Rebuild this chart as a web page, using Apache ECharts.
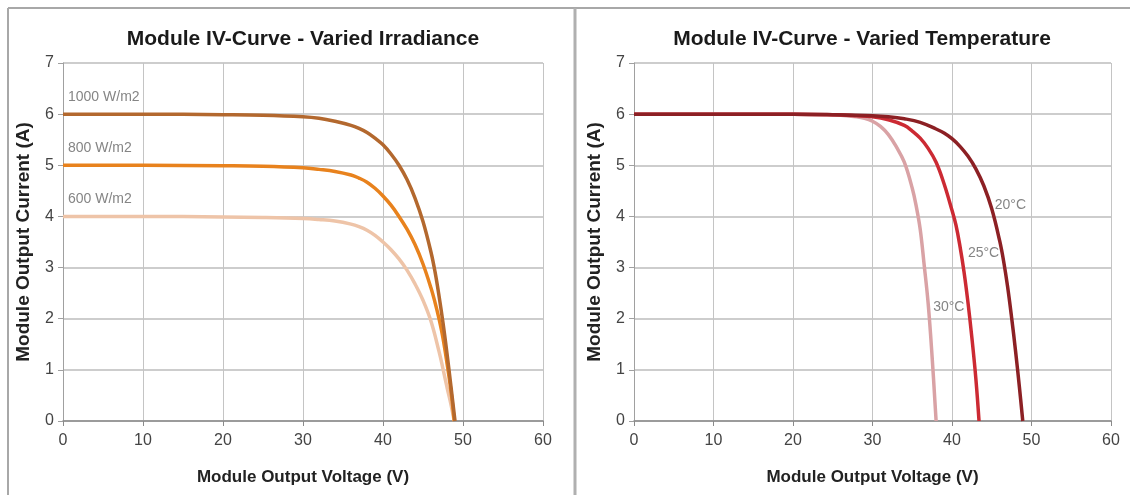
<!DOCTYPE html>
<html><head><meta charset="utf-8">
<script src="https://cdn.jsdelivr.net/npm/echarts@6/dist/echarts.min.js"></script>
<style>html,body{margin:0;padding:0;background:#fff}#c{width:1130px;height:495px}</style>
</head><body><div id="c"></div>
<script>
const chartTitles = ['Module IV-Curve - Varied Irradiance', 'Module IV-Curve - Varied Temperature'];
const xAxisName = 'Module Output Voltage (V)';
const yAxisName = 'Module Output Current (A)';
const xTicks = [0, 10, 20, 30, 40, 50, 60];
const yTicks = [0, 1, 2, 3, 4, 5, 6, 7];

// Varied irradiance
const irr1000Name = '1000 W/m2';
const irr1000V = [0, 10, 20, 25, 30, 32, 34, 36, 37, 38, 39, 40, 41, 42, 43, 44, 45, 46, 46.5, 47, 47.5, 48, 48.5, 49];
const irr1000I = [6.0, 6.0, 5.99, 5.98, 5.95, 5.92, 5.86, 5.78, 5.72, 5.64, 5.53, 5.4, 5.22, 5.0, 4.72, 4.36, 3.9, 3.3, 2.92, 2.45, 1.92, 1.32, 0.67, 0];
const irr800Name = '800 W/m2';
const irr800V = [0, 10, 20, 25, 30, 32, 34, 36, 37, 38, 39, 40, 41, 42, 43, 44, 45, 46, 46.5, 47, 47.5, 48, 48.5, 48.9];
const irr800I = [5.0, 5.0, 4.99, 4.98, 4.95, 4.92, 4.88, 4.81, 4.75, 4.67, 4.55, 4.4, 4.22, 4.0, 3.75, 3.45, 3.07, 2.6, 2.32, 2.0, 1.62, 1.13, 0.58, 0];
const irr600Name = '600 W/m2';
const irr600V = [0, 10, 20, 25, 30, 32, 34, 36, 37, 38, 39, 40, 41, 42, 43, 44, 45, 46, 47, 47.5, 48, 48.5, 48.9];
const irr600I = [4.0, 4.0, 3.99, 3.98, 3.96, 3.94, 3.91, 3.85, 3.8, 3.73, 3.63, 3.5, 3.35, 3.17, 2.95, 2.68, 2.36, 1.95, 1.36, 1.02, 0.66, 0.32, 0];

// Varied temperature
const t20Name = '20°C';
const t20V = [0, 10, 20, 25, 30, 32, 34, 36, 38, 39, 40, 41, 42, 43, 44, 45, 46, 46.5, 47, 47.5, 48, 48.5, 48.9];
const t20I = [6.0, 6.0, 6.0, 5.99, 5.97, 5.95, 5.91, 5.84, 5.71, 5.63, 5.52, 5.37, 5.18, 4.93, 4.6, 4.15, 3.52, 3.12, 2.62, 2.02, 1.36, 0.63, 0];
const t25Name = '25°C';
const t25V = [0, 10, 20, 25, 28, 30, 32, 34, 35, 36, 37, 38, 39, 40, 40.5, 41, 41.5, 42, 42.5, 43, 43.4];
const t25I = [6.0, 6.0, 6.0, 5.99, 5.97, 5.95, 5.89, 5.78, 5.67, 5.53, 5.33, 5.06, 4.64, 4.12, 3.83, 3.42, 2.93, 2.33, 1.63, 0.83, 0];
const t30Name = '30°C';
const t30V = [0, 10, 20, 24, 26, 28, 29, 30, 31, 32, 33, 34, 35, 35.5, 36, 36.5, 37, 37.5, 38];
const t30I = [6.0, 6.0, 6.0, 5.99, 5.98, 5.95, 5.92, 5.86, 5.76, 5.6, 5.36, 5.06, 4.55, 4.2, 3.75, 3.05, 2.3, 1.25, 0];

const FONT = "'Liberation Sans', Arial, sans-serif";
const pts = (v, i) => v.map((x, k) => [x, i[k]]);

function lineSeries(idx, name, v, i, color, labelIdx, labelOffset) {
  return {
    type: 'line', name: name, xAxisIndex: idx, yAxisIndex: idx,
    data: pts(v, i), showSymbol: false, smooth: 0.4,
    lineStyle: { color: color, width: 3.5 }, itemStyle: { color: color },
    z: 3,
    markPoint: {
      symbol: 'circle', symbolSize: 0, silent: true,
      label: { show: true, formatter: name, position: 'right', offset: labelOffset,
        color: '#858585', fontFamily: FONT, fontSize: 14 },
      data: [{ coord: [v[labelIdx], i[labelIdx]] }]
    }
  };
}

function xAxis(idx) {
  return {
    type: 'value', gridIndex: idx, min: xTicks[0], max: xTicks[xTicks.length - 1], interval: xTicks[1] - xTicks[0],
    name: xAxisName, nameLocation: 'middle', nameGap: 48,
    nameTextStyle: { fontFamily: FONT, fontWeight: 'bold', fontSize: 17, color: '#222' },
    axisLine: { lineStyle: { color: '#8a8a8a', width: 1.5 } },
    axisTick: { show: true, length: 5, lineStyle: { color: '#8a8a8a' } },
    axisLabel: { fontFamily: FONT, fontSize: 16, color: '#444', margin: 12 },
    splitLine: { show: true, lineStyle: { color: '#c4c4c4', width: 1 } }
  };
}
function yAxis(idx) {
  return {
    type: 'value', gridIndex: idx, min: yTicks[0], max: yTicks[yTicks.length - 1], interval: yTicks[1] - yTicks[0],
    name: yAxisName, nameLocation: 'middle', nameGap: 30,
    nameTextStyle: { fontFamily: FONT, fontWeight: 'bold', fontSize: 19, color: '#222' },
    axisLine: { show: true, lineStyle: { color: '#a0a0a0', width: 1 } },
    axisTick: { show: true, length: 5, lineStyle: { color: '#a0a0a0' } },
    axisLabel: { fontFamily: FONT, fontSize: 16, color: '#444', margin: 9 },
    splitLine: { show: true, lineStyle: { color: '#cdcdcd', width: 2 } }
  };
}

const chart = echarts.init(document.getElementById('c'), null, { renderer: 'canvas' });
chart.setOption({
  backgroundColor: '#ffffff',
  animation: false,
  title: [
    { text: chartTitles[0], left: 298, top: 24, textAlign: 'center',
      textStyle: { fontFamily: FONT, fontWeight: 'bold', fontSize: 21, color: '#1a1a1a' } },
    { text: chartTitles[1], left: 857, top: 24, textAlign: 'center',
      textStyle: { fontFamily: FONT, fontWeight: 'bold', fontSize: 21, color: '#1a1a1a' } }
  ],
  graphic: [
    { type: 'line', shape: { x1: 8, y1: 8, x2: 1130, y2: 8 }, style: { stroke: '#a8a8a8', lineWidth: 2 } },
    { type: 'line', shape: { x1: 8, y1: 8, x2: 8, y2: 495 }, style: { stroke: '#a8a8a8', lineWidth: 2 } },
    { type: 'line', shape: { x1: 575, y1: 8, x2: 575, y2: 495 }, style: { stroke: '#b0b0b0', lineWidth: 3 } }
  ],
  grid: [
    { left: 63, top: 63, width: 480, height: 358 },
    { left: 634, top: 63, width: 477, height: 358 }
  ],
  xAxis: [xAxis(0), xAxis(1)],
  yAxis: [yAxis(0), yAxis(1)],
  series: [
    lineSeries(0, irr600Name, irr600V, irr600I, '#eec4a8', 0, [0, -17]),
    lineSeries(0, irr800Name, irr800V, irr800I, '#e8821d', 0, [0, -17]),
    lineSeries(0, irr1000Name, irr1000V, irr1000I, '#b3682e', 0, [0, -17]),
    lineSeries(1, t30Name, t30V, t30I, '#d9a2a5', 16, [0, 4]),
    lineSeries(1, t25Name, t25V, t25I, '#cc2a33', 16, [-1, -18]),
    lineSeries(1, t20Name, t20V, t20I, '#8c2024', 15, [-2, -4])
  ]
});
</script></body></html>
